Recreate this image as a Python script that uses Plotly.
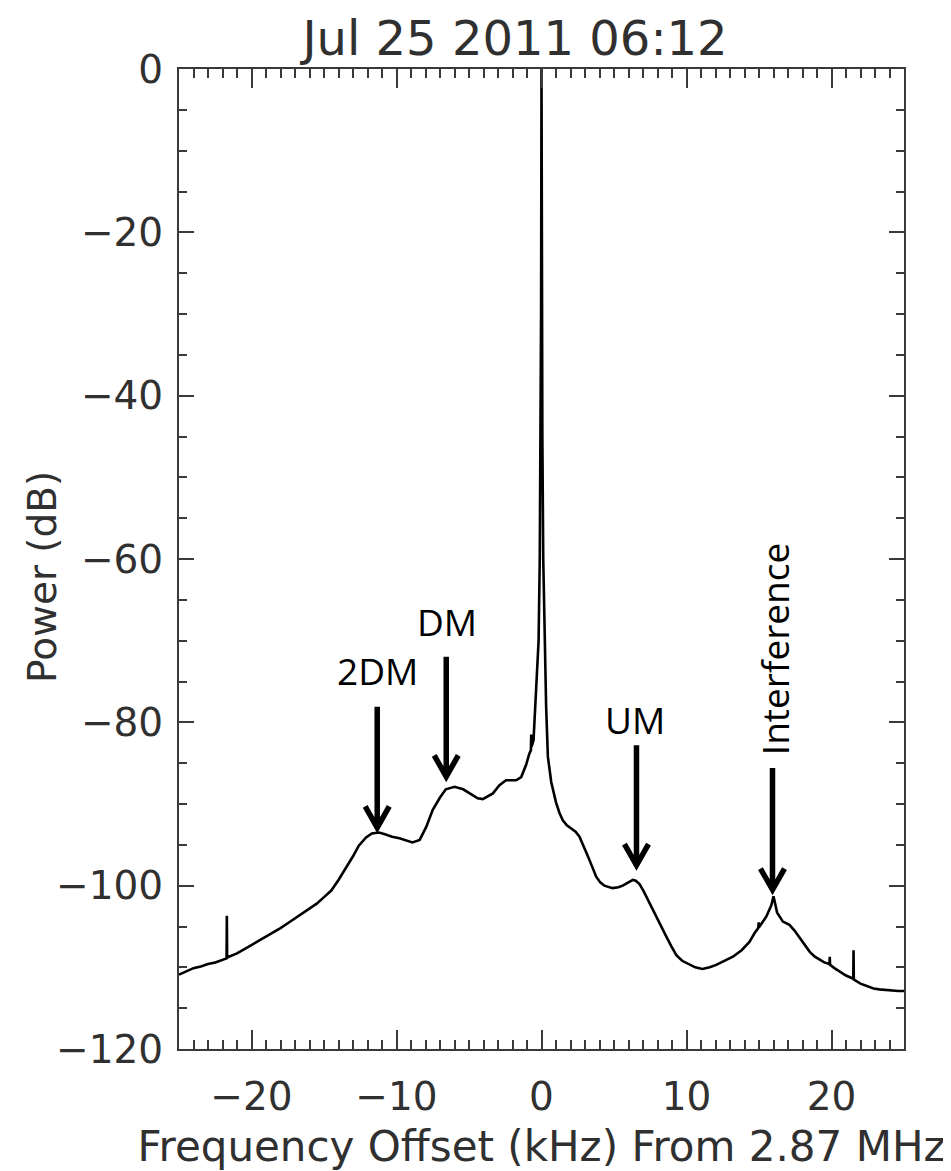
import plotly.graph_objects as go

# ---- data ----
freq_khz = [
    -25.0, -24.5, -24.0, -23.5, -23.0, -22.5, -22.0, -21.72, -21.70, -21.68,
    -21.0, -20.5, -20.0, -19.5, -19.0, -18.5, -18.0, -17.5, -17.0, -16.5,
    -16.0, -15.5, -15.0, -14.5, -14.0, -13.5, -13.0, -12.6, -12.1, -11.7,
    -11.2, -10.8, -10.3, -9.8, -9.3, -8.9, -8.4, -7.95, -7.5, -7.0,
    -6.6, -6.0, -5.4, -4.85, -4.4, -4.05, -3.7, -3.35, -2.9, -2.45,
    -2.0, -1.75, -1.4, -1.06, -0.85, -0.73, -0.71, -0.69, -0.55, -0.44,
    -0.32, -0.20, -0.12, -0.06, -0.03, 0.0, 0.03, 0.06, 0.12, 0.21,
    0.32, 0.44, 0.67, 1.0, 1.24, 1.47, 1.75, 2.05, 2.35, 2.62,
    2.9, 3.2, 3.5, 3.77, 4.05, 4.34, 4.9, 5.3, 5.6, 6.0,
    6.3, 6.5, 6.76, 7.05, 7.33, 7.6, 7.9, 8.25, 8.6, 8.95,
    9.3, 9.7, 10.2, 10.6, 11.1, 11.6, 12.05, 12.6, 13.2, 13.8,
    14.34, 14.7, 14.95, 14.98, 15.0, 15.5, 15.85, 16.0, 16.12, 16.25,
    16.65, 17.1, 17.45, 17.8, 18.15, 18.5, 18.85, 19.2, 19.5, 19.86,
    19.88, 19.90, 20.2, 20.55, 21.0, 21.5, 21.52, 21.54, 22.0, 22.4,
    22.9, 23.3, 23.8, 24.2, 24.6, 25.0,
]
power_db = [
    -110.9, -110.5, -110.1, -109.9, -109.6, -109.4, -109.1, -108.9, -103.7, -108.8,
    -108.3, -107.8, -107.3, -106.8, -106.2, -105.7, -105.2, -104.6, -104.0, -103.4,
    -102.9, -102.2, -101.4, -100.6, -99.3, -97.9, -96.4, -95.1, -94.1, -93.6,
    -93.5, -93.7, -94.0, -94.2, -94.5, -94.7, -94.4, -92.8, -90.7, -89.2,
    -88.2, -87.9, -88.2, -88.8, -89.3, -89.4, -89.1, -88.7, -87.7, -87.1,
    -87.1, -87.1, -86.7, -85.2, -83.9, -83.4, -81.5, -83.0, -82.2, -78.1,
    -74.0, -70.0, -60.0, -45.0, -30.0, 0.0, -30.0, -45.0, -60.0, -70.0,
    -78.1, -84.2, -87.3, -89.8, -91.1, -92.0, -92.6, -93.0, -93.4, -94.0,
    -95.1, -96.4, -97.7, -98.9, -99.6, -100.0, -100.3, -100.2, -100.0, -99.6,
    -99.3, -99.4, -99.8, -100.7, -101.7, -102.8, -103.8, -105.0, -106.2, -107.4,
    -108.5, -109.2, -109.7, -110.0, -110.2, -110.0, -109.7, -109.2, -108.7, -107.9,
    -106.9, -105.8, -105.2, -104.5, -105.1, -103.8, -102.4, -101.3, -102.3, -103.3,
    -104.4, -104.8, -105.5, -106.4, -107.3, -108.1, -108.7, -109.1, -109.4, -109.6,
    -108.7, -109.7, -110.1, -110.5, -111.0, -111.4, -107.9, -111.5, -112.0, -112.3,
    -112.6, -112.7, -112.8, -112.9, -112.9, -112.9,
]

# annotation labels: arrow x (kHz), arrow tip (dB), arrow tail (dB), label x, label y
label_text = ["2DM", "DM", "UM", "Interference"]
arrow_x = [-11.33, -6.57, 6.55, 15.93]
arrow_tip = [-92.9, -86.65, -97.5, -100.5]
arrow_tail = [-78.1, -71.96, -82.8, -85.6]
label_x = [-11.3, -6.55, 6.48, 16.07]
label_y = [-73.6, -67.7, -79.7, -71.1]
label_angle = [0, 0, 0, -90]

title_text = "Jul 25 2011 06:12"
x_title = "Frequency Offset (kHz) From 2.87 MHz"
y_title = "Power (dB)"

# the page body has an 8 px margin, so the figure is laid out 8 px smaller
W, H = 943, 1163
ML, MR, MT, MB = 171, 47, 61, 122
PLOT_W = W - ML - MR
PLOT_H = H - MT - MB
AXIS_FONT = "DejaVu Sans"
TEXT_COLOR = "#303030"
LINE_COLOR = "#3a3a3a"

fig = go.Figure()
fig.add_trace(go.Scatter(
    x=freq_khz, y=power_db, mode="lines",
    line=dict(color="black", width=2.6),
    showlegend=False, hoverinfo="skip",
))

# arrows (shaft + open chevron head) in data coordinates
head_dx = 0.83   # kHz
head_dy = 2.6    # dB
for ax_, tip, tail in zip(arrow_x, arrow_tip, arrow_tail):
    path = (f"M {ax_},{tail} L {ax_},{tip} "
            f"M {ax_ - head_dx},{tip + head_dy} L {ax_},{tip} L {ax_ + head_dx},{tip + head_dy}")
    fig.add_shape(type="path", path=path, xref="x", yref="y",
                  line=dict(color="black", width=5.5))

for txt, lx, ly, ang in zip(label_text, label_x, label_y, label_angle):
    fig.add_annotation(x=lx, y=ly, xref="x", yref="y", text=txt, showarrow=False,
                       textangle=ang, xanchor="center", yanchor="middle",
                       font=dict(family="Open Sans", size=37, color="black"))

# y-axis title as rotated text placed left of the tick labels
fig.add_annotation(x=(34 - ML) / PLOT_W, y=1 - (569 - MT) / PLOT_H, xref="paper", yref="paper",
                   text=y_title, showarrow=False, textangle=-90,
                   xanchor="center", yanchor="middle",
                   font=dict(family=AXIS_FONT, size=39, color=TEXT_COLOR))

fig.update_layout(
    width=W, height=H,
    margin=dict(l=ML, r=MR, t=MT, b=MB, autoexpand=False),
    paper_bgcolor="white", plot_bgcolor="white",
    title=dict(text=title_text, x=507 / W, xref="container", xanchor="center",
               y=1 - 30 / H, yref="container", yanchor="middle",
               font=dict(family=AXIS_FONT, size=48, color=TEXT_COLOR)),
    xaxis=dict(
        range=[-25, 25], tick0=0, dtick=10, ticks="inside", ticklen=19, tickwidth=2,
        tickcolor=LINE_COLOR, showline=True, linecolor=LINE_COLOR, linewidth=2,
        mirror="ticks", showgrid=False, zeroline=False,
        minor=dict(dtick=1, ticks="inside", ticklen=9, tickwidth=2, tickcolor=LINE_COLOR, showgrid=False),
        tickfont=dict(family=AXIS_FONT, size=39, color=TEXT_COLOR),
        title=dict(text=x_title, font=dict(family=AXIS_FONT, size=42, color=TEXT_COLOR), standoff=16),
        ticklabelstandoff=12,
    ),
    yaxis=dict(
        range=[-120, 0], tick0=0, dtick=20, ticks="inside", ticklen=15, tickwidth=2,
        tickcolor=LINE_COLOR, showline=True, linecolor=LINE_COLOR, linewidth=2,
        mirror="ticks", showgrid=False, zeroline=False,
        minor=dict(dtick=5, ticks="inside", ticklen=8, tickwidth=2, tickcolor=LINE_COLOR, showgrid=False),
        tickfont=dict(family=AXIS_FONT, size=39, color=TEXT_COLOR),
        ticklabelstandoff=6,
    ),
)

fig.write_html("out.html")
